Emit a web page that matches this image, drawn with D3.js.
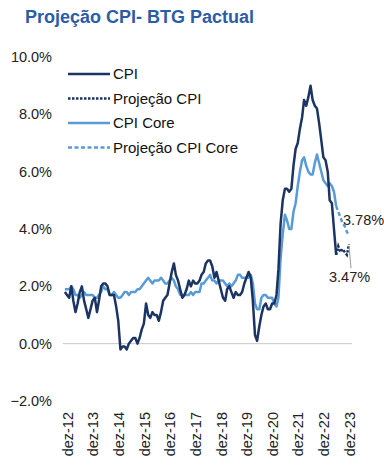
<!DOCTYPE html>
<html>
<head>
<meta charset="utf-8">
<title>Projeção CPI- BTG Pactual</title>
<script src="https://d3js.org/d3.v7.min.js"></script>
<style>
  body { margin: 0; background: #fff; }
  svg text { font-family: "Liberation Sans", Arial, sans-serif; }
</style>
</head>
<body>
<script>
// monthly YoY %, starting Nov 2012, actual data up to Jun 2023
const startMonth = [2012, 10];
const cpi = [
  1.8, 1.7,
  1.6, 2.0, 1.5, 1.1, 1.4, 1.8, 2.0, 1.5, 1.2, 0.9, 1.2, 1.5,
  1.6, 1.1, 1.5, 2.0, 2.1, 2.1, 2.0, 1.7, 1.7, 1.7, 1.3, 0.8,
  -0.2, -0.1, -0.1, -0.2, 0.0, 0.1, 0.2, 0.2, 0.0, 0.2, 0.5, 0.7,
  1.4, 1.0, 0.9, 1.1, 1.0, 1.0, 0.8, 1.1, 1.5, 1.6, 1.7, 2.1,
  2.5, 2.8, 2.4, 2.2, 1.9, 1.6, 1.7, 1.9, 2.2, 2.0, 2.2, 2.1,
  2.1, 2.2, 2.4, 2.5, 2.8, 2.9, 2.9, 2.7, 2.3, 2.5, 2.2, 1.9,
  1.6, 1.5, 1.9, 2.0, 1.8, 1.6, 1.8, 1.7, 1.7, 1.8, 2.1, 2.3,
  2.5, 2.3, 1.5, 0.3, 0.1, 0.6, 1.0, 1.3, 1.4, 1.2, 1.2, 1.4,
  1.4, 1.7, 2.6, 4.2, 5.0, 5.4, 5.4, 5.3, 5.4, 6.2, 6.8, 7.0,
  7.5, 7.9, 8.5, 8.3, 8.6, 9.0, 8.5, 8.3, 8.2, 7.7, 7.1, 6.5,
  6.4, 6.0, 5.0, 4.9, 4.0, 3.1
];
const core = [
  1.9, 1.9,
  1.9, 2.0, 1.9, 1.7, 1.7, 1.6, 1.7, 1.8, 1.7, 1.7, 1.7, 1.7,
  1.6, 1.6, 1.7, 1.8, 2.0, 1.9, 1.9, 1.7, 1.7, 1.8, 1.7, 1.6,
  1.6, 1.7, 1.8, 1.8, 1.7, 1.8, 1.8, 1.8, 1.9, 1.9, 2.0, 2.1,
  2.2, 2.3, 2.2, 2.1, 2.2, 2.2, 2.2, 2.3, 2.2, 2.1, 2.1, 2.2,
  2.3, 2.2, 2.0, 1.9, 1.7, 1.7, 1.7, 1.7, 1.7, 1.8, 1.7, 1.8,
  1.8, 1.8, 2.1, 2.1, 2.2, 2.3, 2.4, 2.2, 2.2, 2.1, 2.2, 2.2,
  2.2, 2.1, 2.0, 2.1, 2.0, 2.1, 2.2, 2.4, 2.4, 2.3, 2.3, 2.3,
  2.3, 2.4, 2.1, 1.4, 1.2, 1.2, 1.6, 1.7, 1.7, 1.6, 1.6, 1.6,
  1.4, 1.3, 1.6, 3.0, 3.8, 4.5, 4.3, 4.0, 4.0, 4.6, 4.9, 5.5,
  6.0, 6.4, 6.5, 6.2, 6.0, 5.9, 5.9, 6.3, 6.6, 6.3, 6.0, 5.7,
  5.6, 5.5, 5.6, 5.5, 5.3, 4.8
];
// projections Jun 2023 -> Dec 2023
const cpiProj = [3.1, 3.4, 3.2, 3.3, 3.2, 3.1, 3.47];
const coreProj = [4.8, 4.6, 4.4, 4.2, 4.1, 3.9, 3.78];
const yTicks = [-2, 0, 2, 4, 6, 8, 10];
const xTickYears = [2012, 2013, 2014, 2015, 2016, 2017, 2018, 2019, 2020, 2021, 2022, 2023];
const legendLabels = ["CPI", "Projeção CPI", "CPI Core", "Projeção CPI Core"];

const w = 384, h = 467;
const colCpi = "#1c3463", colCore = "#5b9bd5";

const month = i => new Date(startMonth[0], startMonth[1] + i, 1);
const cpiData = cpi.map((v, i) => [month(i), v]);
const coreData = core.map((v, i) => [month(i), v]);
const projStart = cpi.length - 1;
const cpiProjData = cpiProj.map((v, i) => [month(projStart + i), v]);
const coreProjData = coreProj.map((v, i) => [month(projStart + i), v]);

const svg = d3.select("body").append("svg")
  .attr("width", w).attr("height", h);

svg.append("text")
  .attr("x", 25).attr("y", 23)
  .style("font-size", "18px").style("font-weight", "bold")
  .attr("fill", "#2b5ca8")
  .text("Projeção CPI- BTG Pactual");

const x = d3.scaleTime()
  .domain([new Date(2012, 11, 1), new Date(2023, 11, 1)])
  .range([67, 349]);
const y = d3.scaleLinear().domain([-2, 10]).range([401, 57]);

// zero line
svg.append("line")
  .attr("x1", 63).attr("x2", 352)
  .attr("y1", y(0)).attr("y2", y(0))
  .attr("stroke", "#c8c8c8").attr("stroke-width", 1);

const yAxis = svg.append("g")
  .attr("transform", "translate(63,0)")
  .call(d3.axisLeft(y).tickValues(yTicks).tickSize(0).tickPadding(11)
    .tickFormat(d => d3.format(".1f")(d) + "%"));
yAxis.select(".domain").remove();
yAxis.selectAll("text").style("font-size", "14.5px").attr("fill", "#222");

const xAxis = svg.append("g")
  .attr("transform", "translate(0,401)")
  .call(d3.axisBottom(x)
    .tickValues(xTickYears.map(yr => new Date(yr, 11, 1)))
    .tickSize(0)
    .tickFormat(d => "dez-" + String(d.getFullYear()).slice(2)));
xAxis.select(".domain").remove();
xAxis.selectAll("text")
  .style("font-size", "14.5px").attr("fill", "#222")
  .attr("transform", "rotate(-90)")
  .attr("x", -11).attr("y", 0).attr("dy", "0.36em")
  .attr("text-anchor", "end");

const line = d3.line().x(d => x(d[0])).y(d => y(d[1]));

svg.append("path").datum(coreData)
  .attr("d", line).attr("fill", "none")
  .attr("stroke", colCore).attr("stroke-width", 2.5)
  .attr("stroke-linejoin", "round");
svg.append("path").datum(coreProjData)
  .attr("d", line).attr("fill", "none")
  .attr("stroke", colCore).attr("stroke-width", 2.5)
  .attr("stroke-dasharray", "4,2.5");
svg.append("path").datum(cpiData)
  .attr("d", line).attr("fill", "none")
  .attr("stroke", colCpi).attr("stroke-width", 2.5)
  .attr("stroke-linejoin", "round");
svg.append("path").datum(cpiProjData)
  .attr("d", line).attr("fill", "none")
  .attr("stroke", colCpi).attr("stroke-width", 2.5)
  .attr("stroke-dasharray", "2.5,1.5");

// end labels
const lastCpi = cpiProjData[cpiProjData.length - 1];
const lastCore = coreProjData[coreProjData.length - 1];
svg.append("line")
  .attr("x1", x(lastCpi[0])).attr("y1", y(lastCpi[1]) + 2)
  .attr("x2", x(lastCpi[0]) + 2).attr("y2", y(lastCpi[1]) + 24)
  .attr("stroke", "#999").attr("stroke-width", 1);
svg.append("text")
  .attr("x", x(lastCpi[0]) - 20).attr("y", y(lastCpi[1]) + 38)
  .style("font-size", "14.5px").attr("fill", "#222")
  .text(d3.format(".2f")(lastCpi[1]) + "%");
svg.append("text")
  .attr("x", x(lastCore[0]) - 6).attr("y", y(lastCore[1]) - 10)
  .style("font-size", "14.5px").attr("fill", "#222")
  .text(d3.format(".2f")(lastCore[1]) + "%");

// legend
const legend = svg.append("g").attr("transform", "translate(68,74)");
legendLabels.forEach((lab, i) => {
  const g = legend.append("g").attr("transform", `translate(0,${i * 24.5})`);
  g.append("line").attr("x1", 0).attr("x2", 42)
    .attr("stroke", i < 2 ? colCpi : colCore).attr("stroke-width", 2.5)
    .attr("stroke-dasharray", i % 2 ? (i < 2 ? "2.5,1.5" : "4,2.5") : null);
  g.append("text").attr("x", 45).attr("dy", "0.36em")
    .style("font-size", "15px").attr("fill", "#111")
    .text(lab);
});
</script>
</body>
</html>
